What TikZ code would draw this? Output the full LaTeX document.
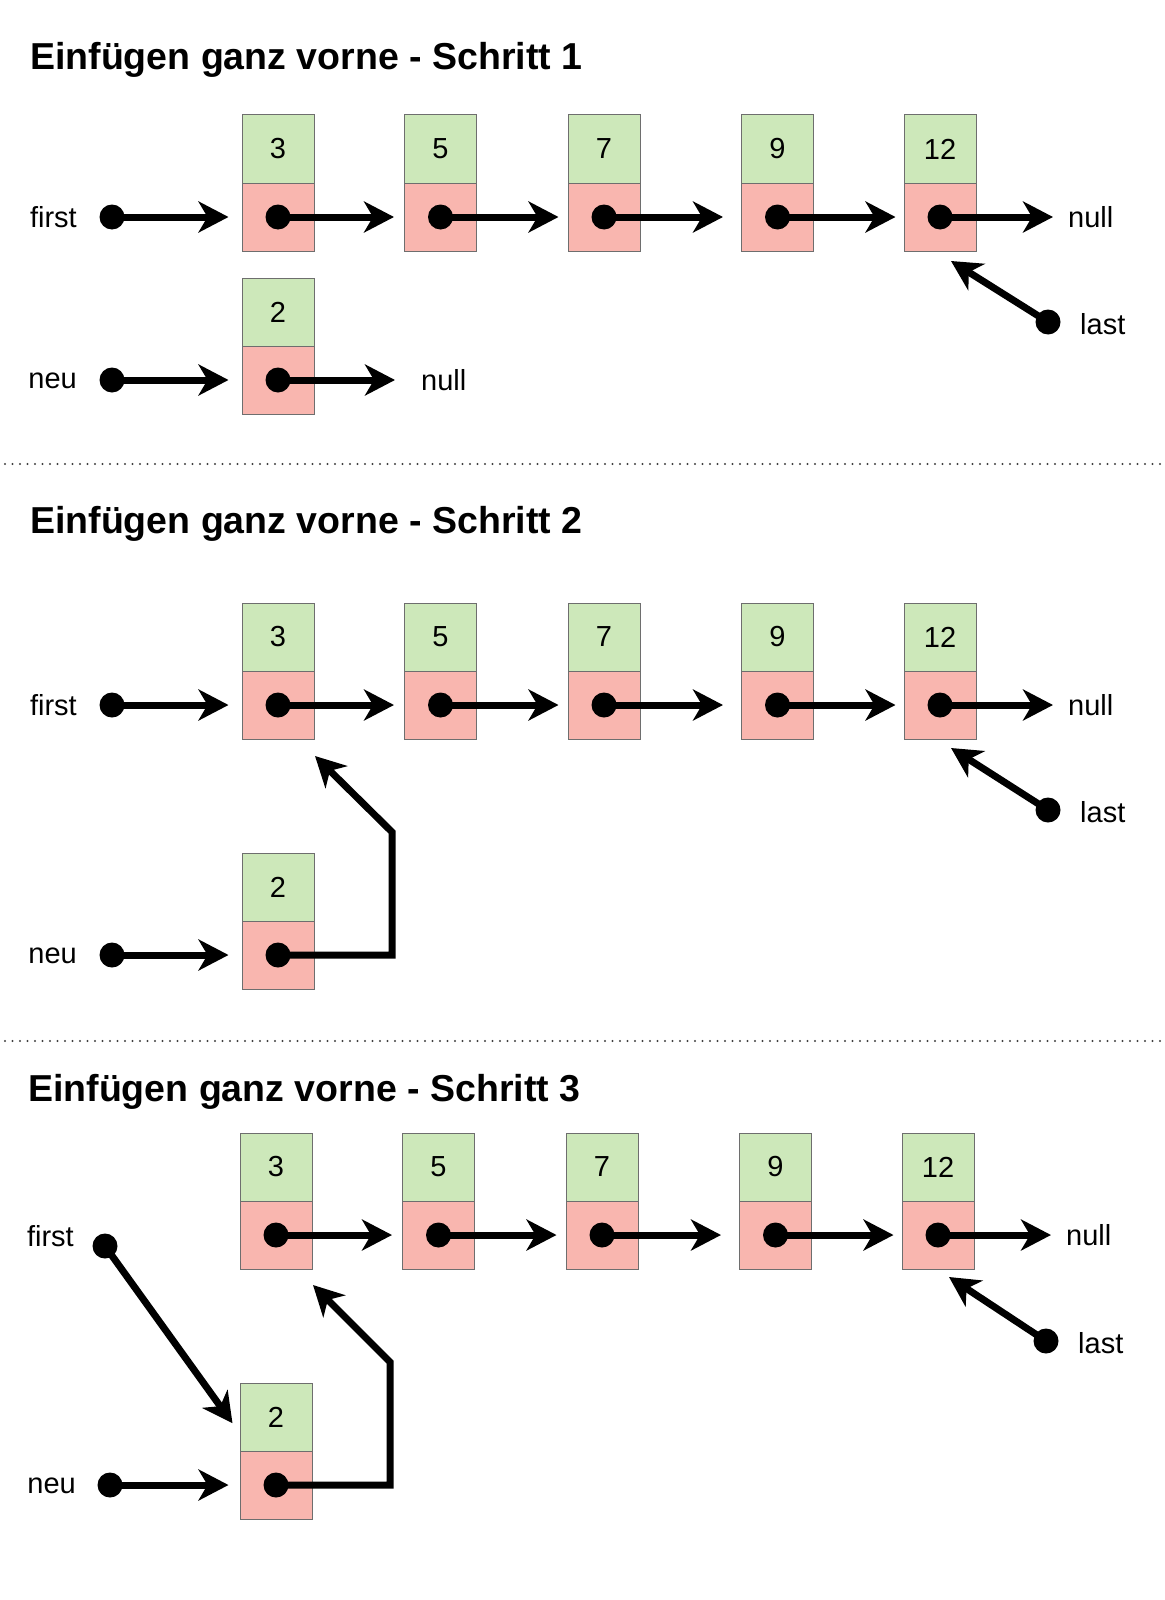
\documentclass[tikz,border=0pt]{standalone}
\usepackage{fontspec}
\setmainfont{Liberation Sans}
\usetikzlibrary{arrows.meta}
\definecolor{wertgruen}{HTML}{CDE8BA}
\definecolor{zeigerrot}{HTML}{F9B6AF}
\definecolor{rand}{HTML}{6E6E6E}
\tikzset{
  wert/.style={draw=rand,line width=1pt,fill=wertgruen,minimum width=72pt,minimum height=68pt,inner sep=0pt,font=\fontsize{29}{29}\selectfont},
  zeiger/.style={draw=rand,line width=1pt,fill=zeigerrot,minimum width=72pt,minimum height=68pt,inner sep=0pt},
  punkt/.style={circle,fill=black,minimum size=25pt,inner sep=0pt},
  pfeil/.style={line width=7pt,-{Stealth[length=30pt,width=31pt,inset=9pt]}},
  beschr/.style={inner sep=0pt,font=\fontsize{29}{29}\selectfont},
  titel/.style={anchor=base west,inner sep=0pt,font=\bfseries\fontsize{37.5}{37.5}\selectfont},
  trenn/.style={line width=2.2pt,dash pattern=on 0pt off 7.5pt,line cap=round,draw=black!75}
}
\begin{document}
\begin{tikzpicture}[x=1pt,y=-1pt]
\useasboundingbox (0,0) rectangle (1164,1600);
% Schritt 1
\node[titel] (titel1) at (30,70) {Einfügen ganz vorne - Schritt 1};
\node[wert] (w1-3) at (278,149) {3};
\node[zeiger] (z1-3) at (278,217) {};
\node[wert] (w1-5) at (440.5,149) {5};
\node[zeiger] (z1-5) at (440.5,217) {};
\node[wert] (w1-7) at (604,149) {7};
\node[zeiger] (z1-7) at (604,217) {};
\node[wert] (w1-9) at (777.5,149) {9};
\node[zeiger] (z1-9) at (777.5,217) {};
\node[wert] (w1-12) at (940,149) {12};
\node[zeiger] (z1-12) at (940,217) {};
\node[wert] (w1-2) at (278,312) {2};
\node[zeiger] (z1-2) at (278,380) {};
\node[punkt] (p1-3) at (z1-3) {};
\node[punkt] (p1-5) at (z1-5) {};
\node[punkt] (p1-7) at (z1-7) {};
\node[punkt] (p1-9) at (z1-9) {};
\node[punkt] (p1-12) at (z1-12) {};
\node[punkt] (p1-2) at (z1-2) {};
\node[beschr,anchor=east] (first1) at (77,217) {first};
\node[punkt] (pf1) at (112,217) {};
\node[beschr,anchor=east] (neu1) at (77,381) {neu};
\node[punkt] (pn1) at (112,380) {};
\node[beschr,anchor=west] (null1) at (1068,217) {null};
\node[beschr,anchor=west] (null1b) at (421,380) {null};
\node[beschr,anchor=west] (last1) at (1080,324) {last};
\node[punkt] (pl1) at (1048,322) {};
\coordinate (lz1) at (951,261);
\draw[pfeil,shorten >=13pt] (pf1.center) -- (z1-3.west);
\draw[pfeil,shorten >=10pt] (p1-3.center) -- (z1-5.west);
\draw[pfeil,shorten >=9pt] (p1-5.center) -- (z1-7.west);
\draw[pfeil,shorten >=18pt] (p1-7.center) -- (z1-9.west);
\draw[pfeil,shorten >=8pt] (p1-9.center) -- (z1-12.west);
\draw[pfeil,shorten >=15pt] (p1-12.center) -- (null1.west);
\draw[pfeil,shorten >=13pt] (pn1.center) -- (z1-2.west);
\draw[pfeil,shorten >=26pt] (p1-2.center) -- (null1b.west);
\draw[pfeil] (pl1.center) -- (lz1);
\draw[trenn] (5,464) -- (1164,464);
% Schritt 2
\node[titel] (titel2) at (30,533) {Einfügen ganz vorne - Schritt 2};
\node[wert] (w2-3) at (278,637) {3};
\node[zeiger] (z2-3) at (278,705) {};
\node[wert] (w2-5) at (440.5,637) {5};
\node[zeiger] (z2-5) at (440.5,705) {};
\node[wert] (w2-7) at (604,637) {7};
\node[zeiger] (z2-7) at (604,705) {};
\node[wert] (w2-9) at (777.5,637) {9};
\node[zeiger] (z2-9) at (777.5,705) {};
\node[wert] (w2-12) at (940,637) {12};
\node[zeiger] (z2-12) at (940,705) {};
\node[wert] (w2-2) at (278,887) {2};
\node[zeiger] (z2-2) at (278,955) {};
\node[punkt] (p2-3) at (z2-3) {};
\node[punkt] (p2-5) at (z2-5) {};
\node[punkt] (p2-7) at (z2-7) {};
\node[punkt] (p2-9) at (z2-9) {};
\node[punkt] (p2-12) at (z2-12) {};
\node[punkt] (p2-2) at (z2-2) {};
\node[beschr,anchor=east] (first2) at (77,705) {first};
\node[punkt] (pf2) at (112,705) {};
\node[beschr,anchor=east] (neu2) at (77,956) {neu};
\node[punkt] (pn2) at (112,955) {};
\node[beschr,anchor=west] (null2) at (1068,705) {null};
\node[beschr,anchor=west] (last2) at (1080,812) {last};
\node[punkt] (pl2) at (1048,810) {};
\coordinate (lz2) at (951,748);
\coordinate (k2) at (392,832);
\coordinate (t2) at (315,756);
\draw[pfeil,shorten >=13pt] (pf2.center) -- (z2-3.west);
\draw[pfeil,shorten >=10pt] (p2-3.center) -- (z2-5.west);
\draw[pfeil,shorten >=9pt] (p2-5.center) -- (z2-7.west);
\draw[pfeil,shorten >=18pt] (p2-7.center) -- (z2-9.west);
\draw[pfeil,shorten >=8pt] (p2-9.center) -- (z2-12.west);
\draw[pfeil,shorten >=15pt] (p2-12.center) -- (null2.west);
\draw[pfeil,shorten >=13pt] (pn2.center) -- (z2-2.west);
\draw[pfeil] (p2-2.center) -| (k2) -- (t2);
\draw[pfeil] (pl2.center) -- (lz2);
\draw[trenn] (5,1041) -- (1164,1041);
% Schritt 3
\node[titel] (titel3) at (28,1101) {Einfügen ganz vorne - Schritt 3};
\node[wert] (w3-3) at (276,1167) {3};
\node[zeiger] (z3-3) at (276,1235) {};
\node[wert] (w3-5) at (438.5,1167) {5};
\node[zeiger] (z3-5) at (438.5,1235) {};
\node[wert] (w3-7) at (602,1167) {7};
\node[zeiger] (z3-7) at (602,1235) {};
\node[wert] (w3-9) at (775.5,1167) {9};
\node[zeiger] (z3-9) at (775.5,1235) {};
\node[wert] (w3-12) at (938,1167) {12};
\node[zeiger] (z3-12) at (938,1235) {};
\node[wert] (w3-2) at (276,1417) {2};
\node[zeiger] (z3-2) at (276,1485) {};
\node[punkt] (p3-3) at (z3-3) {};
\node[punkt] (p3-5) at (z3-5) {};
\node[punkt] (p3-7) at (z3-7) {};
\node[punkt] (p3-9) at (z3-9) {};
\node[punkt] (p3-12) at (z3-12) {};
\node[punkt] (p3-2) at (z3-2) {};
\node[beschr,anchor=east] (first3) at (74,1236) {first};
\node[punkt] (pf3) at (105,1246) {};
\node[beschr,anchor=east] (neu3) at (76,1486) {neu};
\node[punkt] (pn3) at (110,1485) {};
\node[beschr,anchor=west] (null3) at (1066,1235) {null};
\node[beschr,anchor=west] (last3) at (1078,1343) {last};
\node[punkt] (pl3) at (1046,1341) {};
\coordinate (lz3) at (949,1277);
\coordinate (k3) at (390,1362);
\coordinate (t3) at (313,1285);
\draw[pfeil,shorten >=12pt] (pf3.center) -- ([yshift=-16pt]w3-2.west);
\draw[pfeil,shorten >=10pt] (p3-3.center) -- (z3-5.west);
\draw[pfeil,shorten >=9pt] (p3-5.center) -- (z3-7.west);
\draw[pfeil,shorten >=18pt] (p3-7.center) -- (z3-9.west);
\draw[pfeil,shorten >=8pt] (p3-9.center) -- (z3-12.west);
\draw[pfeil,shorten >=15pt] (p3-12.center) -- (null3.west);
\draw[pfeil,shorten >=11pt] (pn3.center) -- (z3-2.west);
\draw[pfeil] (p3-2.center) -| (k3) -- (t3);
\draw[pfeil] (pl3.center) -- (lz3);
\end{tikzpicture}
\end{document}
